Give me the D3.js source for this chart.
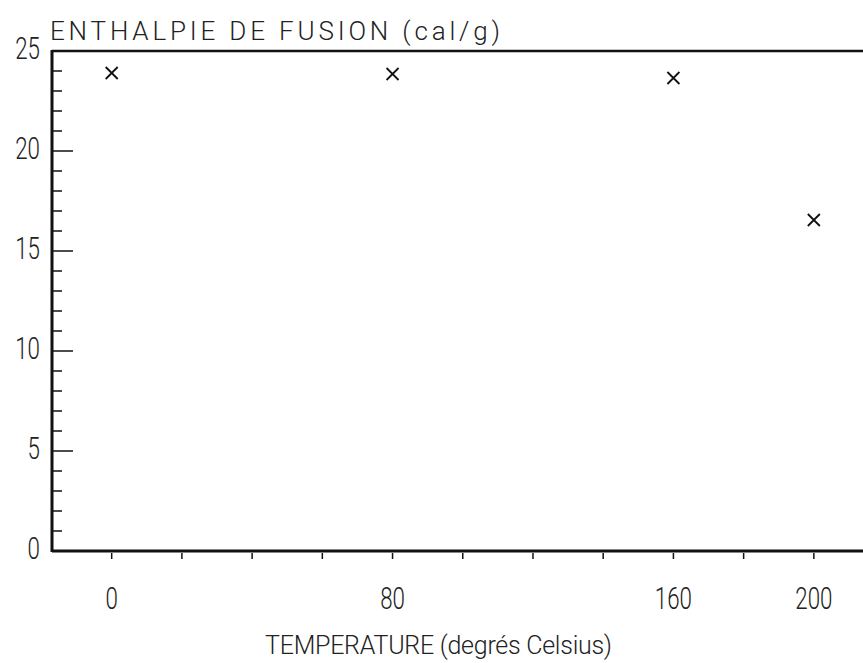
<!DOCTYPE html>
<html>
<head>
<meta charset="utf-8">
<script src="https://cdn.jsdelivr.net/npm/d3@7"></script>
<style>
html,body{margin:0;padding:0;background:#fff;}
svg text{font-family:Roboto,"DejaVu Sans",sans-serif;font-weight:300;fill:#222;}
</style>
</head>
<body>
<svg id="chart" width="863" height="663"></svg>
<script>
const temperatures = [0, 80, 160, 200];
const enthalpies = [23.9, 23.85, 23.65, 16.55];
const xTickValues = [0, 20, 40, 60, 80, 100, 120, 140, 160, 180, 200];
const xTickLabels = [0, 80, 160, 200];
const yMajorTicks = [0, 5, 10, 15, 20, 25];
const yMinorTicks = d3.range(0, 26, 1);
const yTitle = "ENTHALPIE DE FUSION (cal/g)";
const xTitle = "TEMPERATURE (degrés Celsius)";

const svg = d3.select("#chart");
const x = d3.scaleLinear().domain([-17, 214]).range([52, 863]);
const y = d3.scaleLinear().domain([0, 25]).range([551, 51]);

const ink = "#111";
const x0 = x(-17);

// frame lines: left, top, bottom
svg.append("line").attr("x1", x0).attr("x2", x0).attr("y1", y(25)-1).attr("y2", y(0)+1)
  .attr("stroke", ink).attr("stroke-width", 3);
svg.append("line").attr("x1", x0).attr("x2", x(214)).attr("y1", y(25)).attr("y2", y(25))
  .attr("stroke", ink).attr("stroke-width", 2.5);
svg.append("line").attr("x1", x0).attr("x2", x(214)).attr("y1", y(0)).attr("y2", y(0))
  .attr("stroke", ink).attr("stroke-width", 3);

// y ticks (inward, to the right of the axis)
svg.append("g").selectAll("line").data(yMinorTicks.filter(d => d > 0 && d < 25)).join("line")
  .attr("x1", x0).attr("x2", d => x0 + (d % 5 === 0 ? 21 : 10))
  .attr("y1", d => y(d)).attr("y2", d => y(d))
  .attr("stroke", ink).attr("stroke-width", 1.5);

// y labels
svg.append("g").selectAll("text").data(yMajorTicks).join("text")
  .attr("transform", d => `translate(40,${y(d) + 8}) scale(0.72,1)`)
  .attr("text-anchor", "end")
  .attr("font-size", 31)
  .text(d => d);

// x ticks (below the axis)
svg.append("g").selectAll("line").data(xTickValues).join("line")
  .attr("x1", d => x(d)).attr("x2", d => x(d))
  .attr("y1", y(0) + 2).attr("y2", y(0) + 8)
  .attr("stroke", ink).attr("stroke-width", 1.5);

// x labels
svg.append("g").selectAll("text").data(xTickLabels).join("text")
  .attr("transform", d => `translate(${x(d)},609) scale(0.72,1)`)
  .attr("text-anchor", "middle")
  .attr("font-size", 31)
  .text(d => d);

// titles
svg.append("text").attr("x", 50).attr("y", 40)
  .attr("font-size", 26)
  .attr("textLength", 450).attr("lengthAdjust", "spacing")
  .text(yTitle);
svg.append("text").attr("x", 265).attr("y", 654)
  .attr("font-size", 25)
  .attr("textLength", 347).attr("lengthAdjust", "spacing")
  .text(xTitle);

// markers
const s = 6;
const pts = temperatures.map((t, i) => ({t, v: enthalpies[i]}));
const g = svg.append("g").attr("stroke", ink).attr("stroke-width", 1.8);
g.selectAll("path").data(pts).join("path")
  .attr("d", d => {
    const cx = x(d.t), cy = y(d.v);
    return `M${cx-s},${cy-s}L${cx+s},${cy+s}M${cx+s},${cy-s}L${cx-s},${cy+s}`;
  })
  .attr("fill", "none");
</script>
</body>
</html>
